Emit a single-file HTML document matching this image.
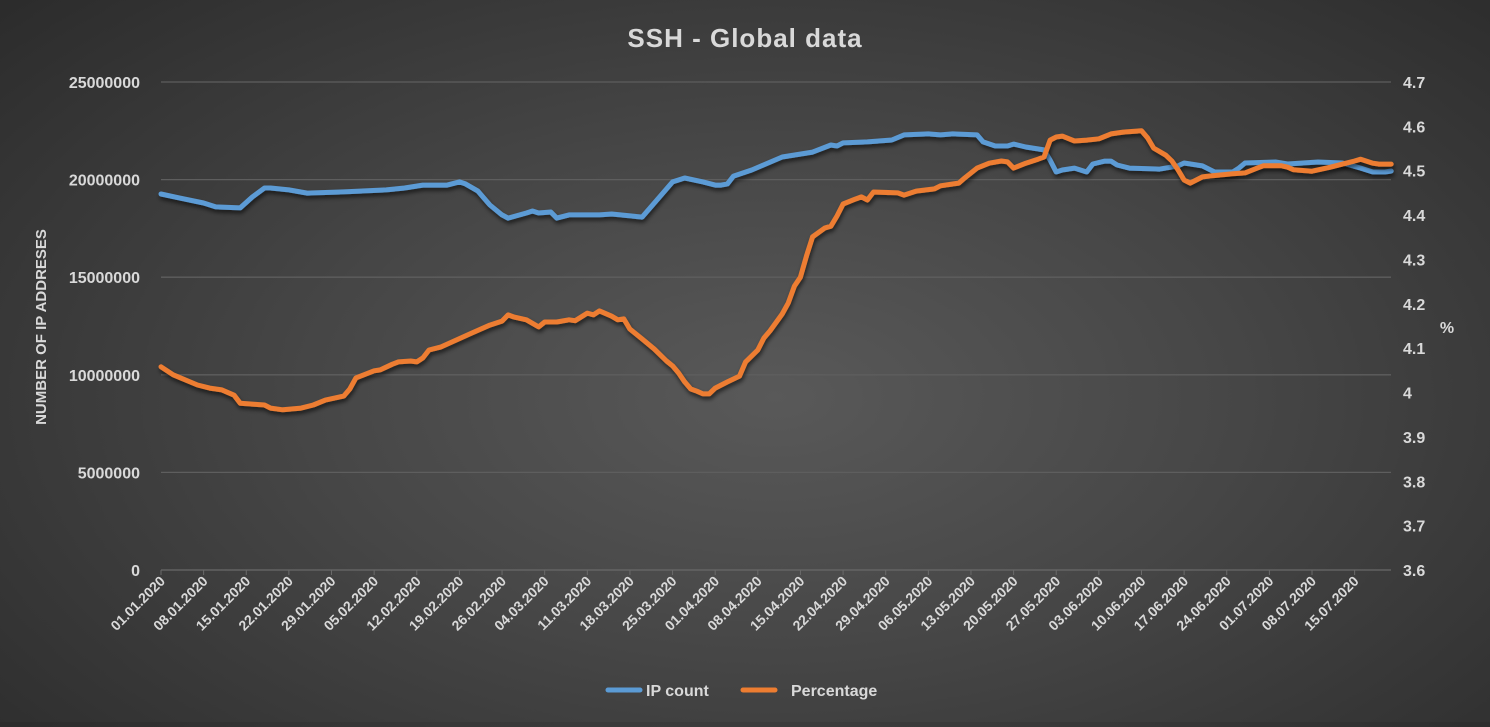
<!DOCTYPE html>
<html><head><meta charset="utf-8"><style>
html,body{margin:0;padding:0}
body{width:1490px;height:722px;overflow:hidden;background:radial-gradient(ellipse 70% 80% at 52% 55%,#595959 0%,#464646 45%,#2c2c2c 100%);font-family:"Liberation Sans",sans-serif}
svg text{font-family:"Liberation Sans",sans-serif;font-weight:bold;fill:#d9d9d9}
</style></head><body>
<svg id="chart" width="1490" height="722" xmlns="http://www.w3.org/2000/svg">
<defs><filter id="sh" x="-5%" y="-20%" width="110%" height="140%"><feDropShadow dx="1" dy="3" stdDeviation="2" flood-color="#000" flood-opacity="0.6"/></filter></defs>
<text x="745" y="47" text-anchor="middle" font-size="26" letter-spacing="1" fill="#f2f2f2">SSH - Global data</text>
<g id="grid"></g><g id="ylab"></g><g id="y2lab"></g><g id="xlab"></g><g id="lines"></g>
<text transform="translate(46,327) rotate(-90)" text-anchor="middle" font-size="15">NUMBER OF IP ADDRESES</text>
<text x="1447" y="333" text-anchor="middle" font-size="16">%</text>
<g>
<line x1="608" y1="690" x2="640" y2="690" stroke="#5b9bd5" stroke-width="5" stroke-linecap="round"/>
<text x="646" y="696" font-size="16">IP count</text>
<line x1="743" y1="690" x2="775" y2="690" stroke="#ed7d31" stroke-width="5" stroke-linecap="round"/>
<text x="791" y="696" font-size="16">Percentage</text>
</g>
</svg>
<script>
const xTickLabels=["01.01.2020","08.01.2020","15.01.2020","22.01.2020","29.01.2020","05.02.2020","12.02.2020","19.02.2020","26.02.2020","04.03.2020","11.03.2020","18.03.2020","25.03.2020","01.04.2020","08.04.2020","15.04.2020","22.04.2020","29.04.2020","06.05.2020","13.05.2020","20.05.2020","27.05.2020","03.06.2020","10.06.2020","17.06.2020","24.06.2020","01.07.2020","08.07.2020","15.07.2020"];
const yTicks=[0,5000000,10000000,15000000,20000000,25000000];
const y2Ticks=[3.6,3.7,3.8,3.9,4,4.1,4.2,4.3,4.4,4.5,4.6,4.7];
const ipDays=[0,3,7,9,13,15,17,18,21,24,30,37,40,43,47,49,50,52,54,56,57,60,61,62,64,65,67,69,72,74,79,82,84,86,89,91,92,93,94,97,102,107,110,111,112,116,120,122,126,128,130,134,135,137,139,140,142,145,146,147,148,150,152,153,155,156,157,159,164,167,168,171,173,176,177,178,183,185,190,194,197,199,201,202];
const ipCount=[19.26,19.06,18.80,18.60,18.55,19.11,19.57,19.57,19.47,19.31,19.37,19.47,19.57,19.72,19.72,19.88,19.78,19.42,18.70,18.19,18.03,18.29,18.39,18.29,18.34,18.03,18.19,18.19,18.19,18.24,18.08,19.16,19.88,20.08,19.88,19.72,19.72,19.78,20.18,20.49,21.16,21.41,21.77,21.72,21.88,21.93,22.03,22.29,22.34,22.29,22.34,22.29,21.93,21.72,21.72,21.82,21.67,21.52,21.00,20.39,20.49,20.59,20.39,20.80,20.95,20.95,20.75,20.59,20.54,20.70,20.85,20.70,20.39,20.39,20.59,20.85,20.90,20.80,20.90,20.85,20.59,20.39,20.39,20.44].map(v=>v*1e6);
const pctDays=[0,2,6,8,10,12,13,15,17,18,20,23,25,27,30,31,32,35,36,38,39,41,42,43,44,46,51,54,56,57,58,60,62,63,65,67,68,70,71,72,74,75,76,77,79,81,83,84,85,86,87,88,89,90,91,93,95,96,98,99,100,102,103,104,105,106,107,109,110,111,112,114,115,116,117,121,122,124,127,128,130,131,132,134,136,138,139,140,142,144,145,146,147,148,150,152,154,156,158,161,162,163,165,166,167,168,169,171,172,176,178,180,181,184,185,186,189,192,194,196,197,199,200,202];
const pctValues=[4.058,4.040,4.017,4.010,4.006,3.994,3.976,3.974,3.972,3.965,3.961,3.965,3.972,3.983,3.992,4.008,4.033,4.049,4.051,4.064,4.069,4.071,4.069,4.078,4.096,4.103,4.134,4.152,4.161,4.175,4.170,4.164,4.148,4.159,4.159,4.164,4.162,4.179,4.175,4.184,4.172,4.164,4.166,4.143,4.121,4.098,4.071,4.060,4.044,4.024,4.008,4.003,3.997,3.997,4.010,4.024,4.037,4.069,4.096,4.123,4.139,4.177,4.202,4.240,4.260,4.308,4.351,4.371,4.375,4.398,4.425,4.436,4.441,4.434,4.452,4.450,4.445,4.454,4.459,4.466,4.470,4.472,4.484,4.506,4.517,4.522,4.520,4.506,4.517,4.526,4.531,4.569,4.576,4.578,4.567,4.569,4.572,4.583,4.587,4.590,4.574,4.551,4.535,4.522,4.502,4.479,4.472,4.486,4.488,4.493,4.495,4.506,4.511,4.511,4.508,4.502,4.499,4.508,4.515,4.522,4.526,4.517,4.515,4.515];
const NS="http://www.w3.org/2000/svg";
const X0=161,DAYW=6.09,Y0=570,Y1=82;
const xs=d=>X0+d*DAYW;
const ys=v=>Y0-(v/25000000)*(Y0-Y1);
const ys2=v=>Y0-((v-3.6)/1.1)*(Y0-Y1);
function mk(tag,attrs,parent){const e=document.createElementNS(NS,tag);for(const k in attrs)e.setAttribute(k,attrs[k]);parent.appendChild(e);return e;}
const grid=document.getElementById('grid'),ylab=document.getElementById('ylab'),y2lab=document.getElementById('y2lab'),xlab=document.getElementById('xlab'),lines=document.getElementById('lines');
yTicks.forEach(v=>{
  const y=ys(v);
  const g=mk('line',{x1:X0,x2:1391,y1:y,y2:y,stroke:v===0?'#6a6a6a':'#5e5e5e','stroke-width':1.3},grid);
  
  
  const t=mk('text',{x:140,y:y+6,'text-anchor':'end','font-size':16},ylab);
  t.textContent=v;
  
  
});
y2Ticks.forEach(v=>{
  const t=mk('text',{x:1403,y:ys2(v)+6,'font-size':16},y2lab);
  t.textContent=String(v);
  
  
});
xTickLabels.forEach((s,i)=>{
  const x=xs(i*7);
  const tk=mk('line',{x1:x,x2:x,y1:Y0,y2:Y0+5,stroke:'#6a6a6a','stroke-width':1},xlab);
  
  
  const t=mk('text',{transform:`translate(${x+5},${Y0+12}) rotate(-45)`,'text-anchor':'end','font-size':14},xlab);
  t.textContent=s;
  
  
});
const pIP=ipDays.map((d,i)=>xs(d).toFixed(1)+','+ys(ipCount[i]).toFixed(1)).join(' ');
const l1=mk('polyline',{points:pIP,fill:'none',stroke:'#5b9bd5','stroke-width':5,'stroke-linejoin':'round','stroke-linecap':'round',filter:'url(#sh)'},lines);


const pP=pctDays.map((d,i)=>xs(d).toFixed(1)+','+ys2(pctValues[i]).toFixed(1)).join(' ');
const l2=mk('polyline',{points:pP,fill:'none',stroke:'#ed7d31','stroke-width':5,'stroke-linejoin':'round','stroke-linecap':'round',filter:'url(#sh)'},lines);


</script>
</body></html>
